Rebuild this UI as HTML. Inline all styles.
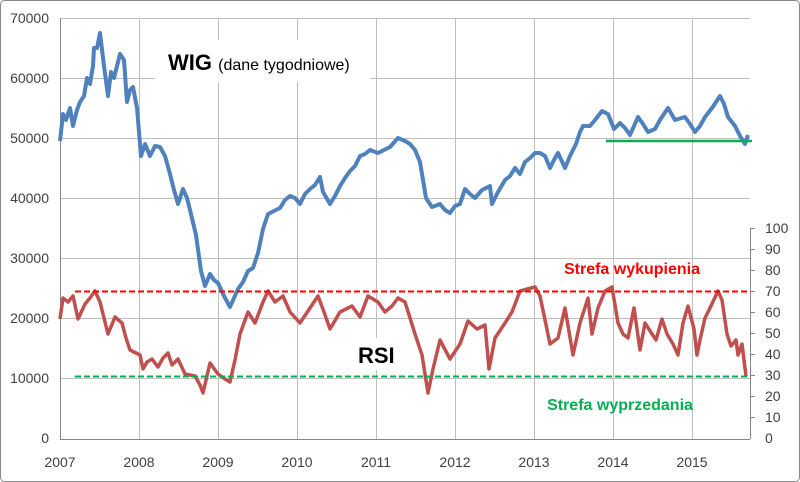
<!DOCTYPE html><html><head><style>body{margin:0;background:#fff}svg{display:block;font-family:"Liberation Sans",sans-serif}</style></head><body>
<svg width="800" height="482" viewBox="0 0 800 482">
<rect x="0.5" y="0.5" width="799" height="481" rx="4" fill="#fff" stroke="#888"/>
<g stroke="#bfbfbf" stroke-width="1">
<line x1="60" y1="18.5" x2="750" y2="18.5"/><line x1="60" y1="78.5" x2="750" y2="78.5"/><line x1="60" y1="138.5" x2="750" y2="138.5"/><line x1="60" y1="198.5" x2="750" y2="198.5"/><line x1="60" y1="258.5" x2="750" y2="258.5"/><line x1="60" y1="318.5" x2="750" y2="318.5"/><line x1="60" y1="378.5" x2="750" y2="378.5"/>
<line x1="139.5" y1="18" x2="139.5" y2="439"/><line x1="218.5" y1="18" x2="218.5" y2="439"/><line x1="297.5" y1="18" x2="297.5" y2="439"/><line x1="376.5" y1="18" x2="376.5" y2="439"/><line x1="455.5" y1="18" x2="455.5" y2="439"/><line x1="534.5" y1="18" x2="534.5" y2="439"/><line x1="613.5" y1="18" x2="613.5" y2="439"/><line x1="692.5" y1="18" x2="692.5" y2="439"/>
</g>
<g stroke="#868686"><line x1="60.5" y1="18" x2="60.5" y2="439"/><line x1="60" y1="439.5" x2="750" y2="439.5"/><line x1="750.5" y1="228" x2="750.5" y2="439"/>
<g><line x1="750" y1="228.5" x2="755" y2="228.5"/><line x1="750" y1="249.5" x2="755" y2="249.5"/><line x1="750" y1="270.5" x2="755" y2="270.5"/><line x1="750" y1="291.5" x2="755" y2="291.5"/><line x1="750" y1="312.5" x2="755" y2="312.5"/><line x1="750" y1="333.5" x2="755" y2="333.5"/><line x1="750" y1="354.5" x2="755" y2="354.5"/><line x1="750" y1="375.5" x2="755" y2="375.5"/><line x1="750" y1="396.5" x2="755" y2="396.5"/><line x1="750" y1="417.5" x2="755" y2="417.5"/></g></g>
<rect x="155" y="40" width="215" height="42" fill="#fff"/>
<rect x="340" y="338" width="55" height="32" fill="#fff"/>
<g font-size="14" fill="#404040" text-anchor="end">
<text x="49" y="23">70000</text><text x="49" y="83">60000</text><text x="49" y="143">50000</text><text x="49" y="203">40000</text><text x="49" y="263">30000</text><text x="49" y="323">20000</text><text x="49" y="383">10000</text><text x="49" y="443">0</text></g>
<g font-size="14" fill="#404040" text-anchor="start">
<text x="765" y="233">100</text><text x="765" y="254">90</text><text x="765" y="275">80</text><text x="765" y="296">70</text><text x="765" y="317">60</text><text x="765" y="338">50</text><text x="765" y="359">40</text><text x="765" y="380">30</text><text x="765" y="401">20</text><text x="765" y="422">10</text><text x="765" y="443">0</text></g>
<g font-size="14" fill="#404040" text-anchor="middle">
<text x="60" y="467">2007</text><text x="139" y="467">2008</text><text x="218" y="467">2009</text><text x="297" y="467">2010</text><text x="376" y="467">2011</text><text x="455" y="467">2012</text><text x="534" y="467">2013</text><text x="613" y="467">2014</text><text x="692" y="467">2015</text></g>
<polyline fill="none" stroke="#4f81bd" stroke-width="4" stroke-linejoin="round" points="60,141 63,114 66,120 70,108 73,126 77,110 80,102 84,96 87,78 90,84 93,66 94,48 97,48 100,33 104,66 108,96 111,72 114,78 117,66 120,54 124,60 127,102 130,90 133,87 137,108 141,156 145,144 150,156 155,146 160,147 165,156 170,174 174,190 178,204 183,189 187,198 190,210 196,235 201,271 205,286 210,274 214,280 218,283 224,296 230,307 238,289 243,282 248,271 253,268 258,253 263,229 268,214 274,211 280,208 285,200 290,196 295,198 300,204 305,194 310,189 315,185 320,177 323,192 330,204 335,196 340,186 345,178 350,171 355,166 360,156 365,154 370,150 378,153 384,150 390,147 398,138 405,141 410,144 415,150 420,162 426,198 432,207 440,204 445,210 450,213 455,206 460,204 465,189 470,194 475,198 482,190 490,186 492,204 498,192 505,180 510,176 515,168 520,174 525,162 530,158 535,153 540,153 545,156 550,168 554,160 558,153 565,168 570,156 576,144 580,132 583,126 590,126 595,120 602,111 608,114 614,129 620,123 625,128 630,135 634,126 638,117 643,124 648,132 655,129 660,120 668,108 675,120 685,117 690,124 695,132 700,126 705,117 712,108 720,96 724,104 728,117 735,126 740,136 745,144 748,135"/>
<line x1="606" y1="141" x2="752" y2="141" stroke="#00b050" stroke-width="2.5"/>
<polyline fill="none" stroke="#c0504d" stroke-width="3.5" stroke-linejoin="round" points="60,319 63,298 68,302 73,296 78,319 85,304 90,298 95,291 100,302 104,318 108,334 115,317 122,323 126,338 130,350 140,355 143,369 147,362 152,359 158,367 163,358 168,353 172,365 178,359 185,374 195,376 200,385 203,393 210,363 218,374 225,379 230,382 235,360 240,334 248,312 255,323 263,302 268,291 275,302 283,296 290,312 300,323 310,308 318,296 324,312 330,329 340,312 352,306 360,317 368,296 378,302 385,312 392,306 398,298 405,302 410,318 415,334 422,355 428,393 433,369 440,340 450,359 460,344 468,321 477,329 485,325 489,369 495,338 505,323 512,312 520,291 535,287 540,296 545,320 550,344 558,338 565,308 573,355 580,323 588,298 592,334 598,308 605,291 612,287 618,323 623,334 628,338 634,308 640,350 645,323 652,334 656,340 662,319 667,334 673,344 678,355 683,323 688,306 694,329 697,355 700,340 705,318 710,308 718,291 722,300 727,334 731,346 736,340 738,355 742,344 746,376"/>
<line x1="75" y1="291.5" x2="750" y2="291.5" stroke="#ff0000" stroke-width="2" stroke-dasharray="6,3"/>
<line x1="75" y1="376.5" x2="750" y2="376.5" stroke="#00b050" stroke-width="2" stroke-dasharray="6,3"/>
<text x="168" y="70" font-size="22" font-weight="bold" fill="#000">WIG <tspan font-size="16" font-weight="normal">(dane tygodniowe)</tspan></text>
<text x="358" y="363" font-size="22" font-weight="bold" fill="#000">RSI</text>
<text x="632" y="274" font-size="16" font-weight="bold" fill="#ff0000" text-anchor="middle">Strefa wykupienia</text>
<text x="620" y="410" font-size="16" font-weight="bold" fill="#00b050" text-anchor="middle">Strefa wyprzedania</text>
</svg></body></html>
